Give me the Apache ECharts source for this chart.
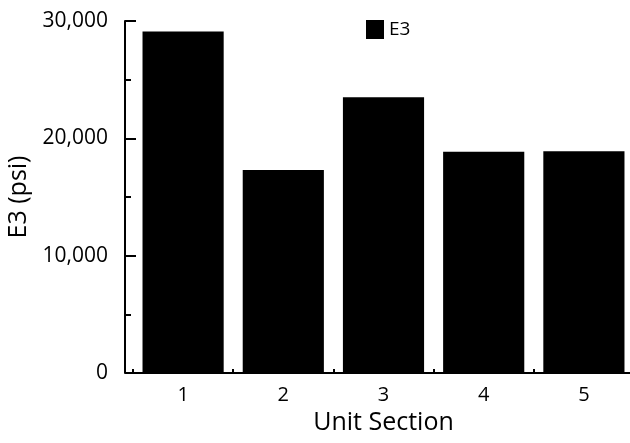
<!DOCTYPE html>
<html>
<head>
<meta charset="utf-8">
<script src="https://cdn.jsdelivr.net/npm/echarts@6/dist/echarts.min.js"></script>
<style>html,body{margin:0;padding:0;background:#fff}#c{width:630px;height:443px}</style>
</head>
<body>
<div id="c"></div>
<script>
const categories = ['1', '2', '3', '4', '5'];
const e3Values = [29100, 17300, 23500, 18850, 18900];
const seriesName = 'E3';
const yTicks = [0, 10000, 20000, 30000];

const FONT = '"Open Sans", "DejaVu Sans", sans-serif';
const chart = echarts.init(document.getElementById('c'), null, {renderer: 'canvas'});
chart.setOption({
  animation: false,
  backgroundColor: '#fff',
  textStyle: {fontFamily: FONT, color: '#000'},
  legend: {
    data: [seriesName],
    left: 361, top: 15,
    icon: 'rect', itemWidth: 18, itemHeight: 19, itemGap: 6,
    textStyle: {fontSize: 19, color: '#000', fontFamily: FONT}
  },
  grid: {left: 133, width: 501, top: 21, height: 352, containLabel: false, outerBoundsMode: 'none'},
  xAxis: {
    type: 'category',
    data: categories,
    name: 'Unit Section',
    nameLocation: 'middle',
    nameGap: 36,
    nameTextStyle: {fontSize: 25, color: '#000', fontFamily: FONT},
    axisLine: {show: true, lineStyle: {color: '#000', width: 2}},
    axisTick: {show: true, inside: true, length: 4, lineStyle: {color: '#000', width: 2}},
    axisLabel: {fontSize: 20, color: '#000', margin: 12, fontFamily: FONT},
    splitLine: {show: false}
  },
  yAxis: {
    type: 'value',
    min: yTicks[0], max: yTicks[yTicks.length - 1], interval: yTicks[1] - yTicks[0],
    offset: 8,
    name: 'E3 (psi)',
    nameLocation: 'middle',
    nameGap: 92,
    nameTextStyle: {fontSize: 25, color: '#000', fontFamily: FONT},
    axisLine: {show: true, lineStyle: {color: '#000', width: 2}},
    axisTick: {show: true, inside: true, length: 11, lineStyle: {color: '#000', width: 2}},
    minorTick: {show: true, splitNumber: 2, length: 6, lineStyle: {color: '#000', width: 2}},
    axisLabel: {fontSize: 21, color: '#000', margin: 17, fontFamily: FONT},
    splitLine: {show: false}
  },
  graphic: [{
    type: 'line', silent: true,
    shape: {x1: 125, y1: 373, x2: 134, y2: 373},
    style: {stroke: '#000', lineWidth: 2}
  }],
  series: [{
    name: seriesName,
    type: 'bar',
    data: e3Values,
    barCategoryGap: '19%',
    itemStyle: {color: '#000'}
  }]
});
</script>
</body>
</html>
